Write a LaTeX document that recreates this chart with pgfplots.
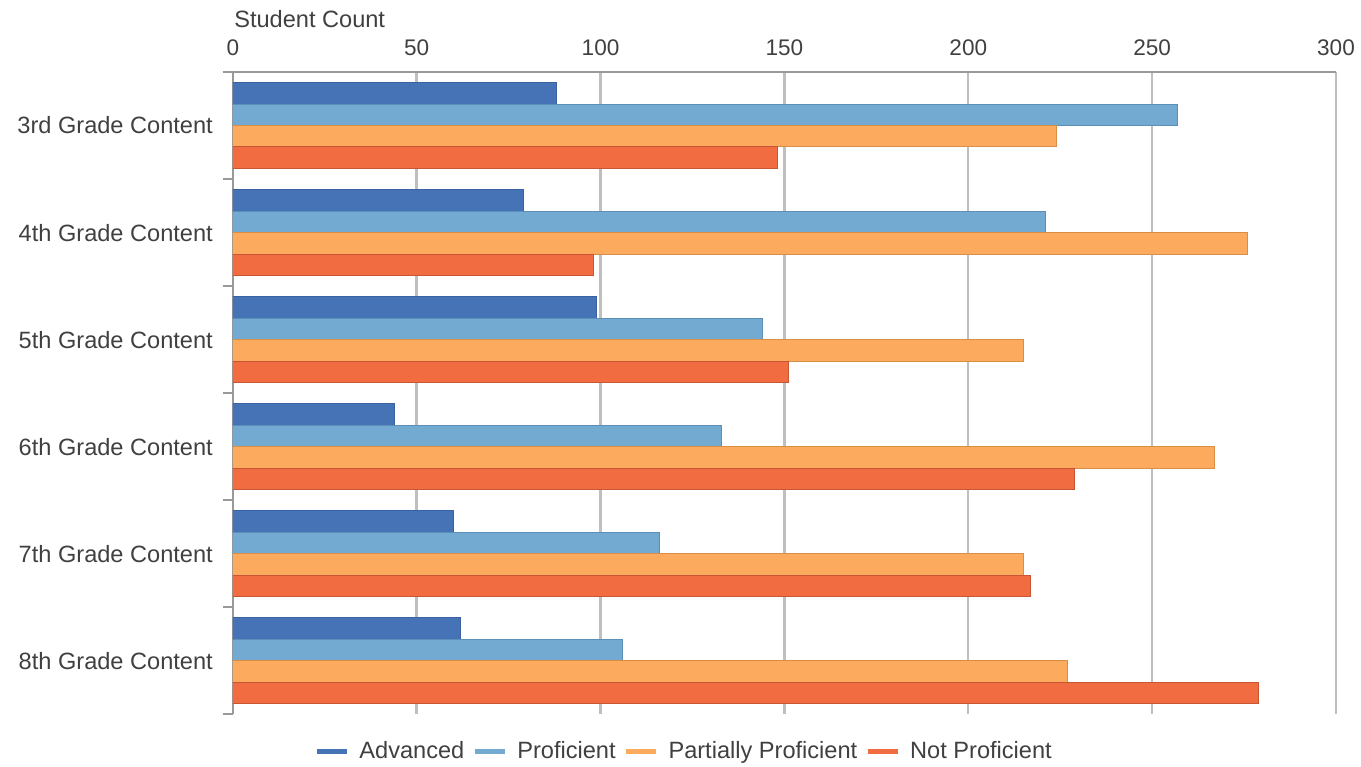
\documentclass[border=0pt]{standalone}
\usepackage{pgfplots}
\pgfplotsset{compat=1.18}
\usepackage{fontspec}
\setmainfont{Liberation Sans}
\definecolor{advc}{HTML}{4573B5}
\definecolor{advd}{HTML}{3A62A0}
\definecolor{proc}{HTML}{72AAD2}
\definecolor{prod}{HTML}{5B8FB8}
\definecolor{parc}{HTML}{FCAB5E}
\definecolor{pard}{HTML}{D98E47}
\definecolor{notc}{HTML}{F26C41}
\definecolor{notd}{HTML}{C95632}
\definecolor{tg}{HTML}{404040}
\definecolor{gridc}{HTML}{BFBFBF}
\definecolor{axc}{HTML}{999999}
\begin{document}
\fontsize{11.5bp}{13bp}\selectfont
\begin{tikzpicture}
\path[use as bounding box] (-116.5bp,-26bp) rectangle (564.5bp,357.5bp);
\begin{axis}[
  scale only axis, width=552bp, height=321.5bp,
  xbar=0pt, bar width=10.75bp,
  xmin=0, xmax=300, ymin=-0.5, ymax=5.5,
  axis x line*=top, axis y line*=left,
  axis line style={axc, line width=1bp},
  xtick={0,50,...,300},
  /pgf/number format/assume math mode=true,
  xmajorgrids, major grid style={gridc, line width=1.2bp},
  ytick={0,...,5},
  yticklabels={8th Grade Content,7th Grade Content,6th Grade Content,5th Grade Content,4th Grade Content,3rd Grade Content},
  minor ytick={-0.5,0.5,...,5.5},
  major tick length=0pt, minor tick length=5bp,
  tick align=outside,
  minor tick style={axc, line width=1bp},
  major tick style={draw=none},
  tick label style={text=tg, font=\fontsize{11.3bp}{13bp}\selectfont},
  yticklabel style={xshift=-6bp, font=\fontsize{11.8bp}{13bp}\selectfont},
  xticklabel style={yshift=4bp},
  xlabel={Student Count},
  xlabel style={at={(0,1)}, anchor=south west, xshift=-3.3bp, yshift=18bp, text=tg, font=\fontsize{11.8bp}{13bp}\selectfont},
  legend style={at={(0.41,-0.058)}, anchor=center, legend columns=-1, draw=none, fill=none,
    text=tg, font=\fontsize{11.8bp}{13bp}\selectfont,
    /tikz/every even column/.append style={column sep=2bp}},
]
\addplot[fill=advc, draw=advd, line width=0.5bp, bar shift=16.125bp,
  legend image code/.code={\draw[line width=2.5bp, advc] (0bp,0bp) -- (15bp,0bp); \path (19bp,0bp);}]
  coordinates {(88,5) (79,4) (99,3) (44,2) (60,1) (62,0)};
\addplot[fill=proc, draw=prod, line width=0.5bp, bar shift=5.375bp,
  legend image code/.code={\draw[line width=2.5bp, proc] (0bp,0bp) -- (15bp,0bp); \path (19bp,0bp);}]
  coordinates {(257,5) (221,4) (144,3) (133,2) (116,1) (106,0)};
\addplot[fill=parc, draw=pard, line width=0.5bp, bar shift=-5.375bp,
  legend image code/.code={\draw[line width=2.5bp, parc] (0bp,0bp) -- (15bp,0bp); \path (19bp,0bp);}]
  coordinates {(224,5) (276,4) (215,3) (267,2) (215,1) (227,0)};
\addplot[fill=notc, draw=notd, line width=0.5bp, bar shift=-16.125bp,
  legend image code/.code={\draw[line width=2.5bp, notc] (0bp,0bp) -- (15bp,0bp); \path (19bp,0bp);}]
  coordinates {(148,5) (98,4) (151,3) (229,2) (217,1) (279,0)};
\legend{Advanced, Proficient, Partially Proficient, Not Proficient}
\end{axis}
\end{tikzpicture}
\end{document}
